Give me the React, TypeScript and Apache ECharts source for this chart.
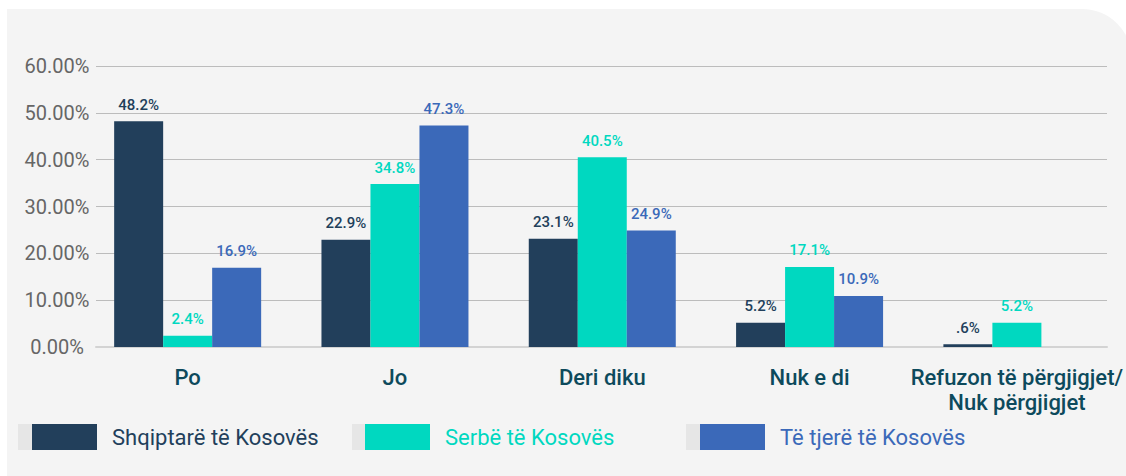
import React, { useEffect, useRef } from "react";
import * as echarts from "echarts";

const categories = ["Po", "Jo", "Deri diku", "Nuk e di", "Refuzon të përgjigjet/\nNuk përgjigjet"];
const seriesNames = ["Shqiptarë të Kosovës", "Serbë të Kosovës", "Të tjerë të Kosovës"];
const albanians = [48.2, 22.9, 23.1, 5.2, 0.6];
const serbs = [2.4, 34.8, 40.5, 17.1, 5.2];
const others = [16.9, 47.3, 24.9, 10.9, null];
const yTicks = [0, 10, 20, 30, 40, 50, 60];

const colors = ["#223f5b", "#00d8c0", "#3b69b9"];
const FONT = "Roboto";

const fmtLabel = (v: number) => {
  const s = v.toFixed(1);
  return (v < 1 ? s.replace(/^0/, "") : s) + "%";
};

export default function App() {
  const ref = useRef<HTMLDivElement>(null);
  useEffect(() => {
    if (!ref.current) return;
    const chart = echarts.init(ref.current, null, { renderer: "svg" });
    const data = [albanians, serbs, others];
    const top = 66;
    const bottom = 129;
    chart.setOption({
      animation: false,
      textStyle: { fontFamily: FONT },
      graphic: [
        {
          type: "rect",
          z: -10,
          silent: true,
          shape: { x: 7, y: 9, width: 1125, height: 480, r: [0, 50, 0, 0] },
          style: { fill: "#f4f4f4" },
        },
        { type: "rect", z: 5, shape: { x: 18, y: 424, width: 14, height: 26 }, style: { fill: "#e6e6e6" } },
        { type: "rect", z: 5, shape: { x: 352, y: 424, width: 13, height: 26 }, style: { fill: "#e6e6e6" } },
        { type: "rect", z: 5, shape: { x: 686, y: 424, width: 14, height: 26 }, style: { fill: "#e6e6e6" } },
      ],
      grid: [
        { left: 96, right: 19, top, bottom },
        { left: 84, right: 5, top, bottom },
      ],
      xAxis: [
        {
          gridIndex: 0,
          type: "category",
          data: categories,
          axisLine: { show: true, lineStyle: { color: "#d3d3d3", width: 2 } },
          axisTick: { show: false },
          axisLabel: { show: false },
        },
        {
          gridIndex: 1,
          type: "category",
          data: categories,
          axisLine: { show: false },
          axisTick: { show: false },
          axisLabel: {
            color: "#0d4a5c",
            fontFamily: FONT,
            fontSize: 22,
            fontWeight: 500,
            lineHeight: 25,
            margin: 18,
            interval: 0,
          },
        },
      ],
      yAxis: [
        {
          gridIndex: 0,
          type: "value",
          min: yTicks[0],
          max: yTicks[yTicks.length - 1],
          interval: yTicks[1] - yTicks[0],
          axisLine: { show: false },
          axisTick: { show: false },
          splitLine: { lineStyle: { color: "#bcbcbc", width: 1 } },
          axisLabel: {
            color: "#666666",
            fontFamily: FONT,
            fontSize: 20,
            align: "center",
            margin: 39,
            formatter: (v: number) => v.toFixed(2) + "%",
          },
        },
        {
          gridIndex: 1,
          type: "value",
          min: yTicks[0],
          max: yTicks[yTicks.length - 1],
          interval: yTicks[1] - yTicks[0],
          axisLine: { show: false },
          axisTick: { show: false },
          splitLine: { show: false },
          axisLabel: { show: false },
        },
      ],
      legend: seriesNames.map((name, i) => ({
        data: [name],
        left: [32, 365, 700][i],
        top: 424,
        padding: 0,
        itemWidth: 65,
        itemHeight: 26,
        icon: "rect",
        selectedMode: false,
        textStyle: {
          color: colors[i],
          fontFamily: FONT,
          fontSize: 22,
          padding: [0, 0, 0, 10],
        },
      })),
      series: seriesNames.map((name, i) => ({
        name,
        type: "bar",
        xAxisIndex: 1,
        yAxisIndex: 1,
        data: data[i],
        barWidth: 49,
        barGap: "0%",
        itemStyle: { color: colors[i] },
        label: {
          show: true,
          position: "top",
          distance: 9,
          color: colors[i],
          fontFamily: FONT,
          fontSize: 15,
          fontWeight: 500,
          formatter: (p: any) => fmtLabel(p.value),
        },
      })),
    });
    return () => chart.dispose();
  }, []);
  return (
    <div
      ref={ref}
      style={{ position: "fixed", left: 0, top: 0, width: 1126, height: 476, background: "#ffffff" }}
    />
  );
}
